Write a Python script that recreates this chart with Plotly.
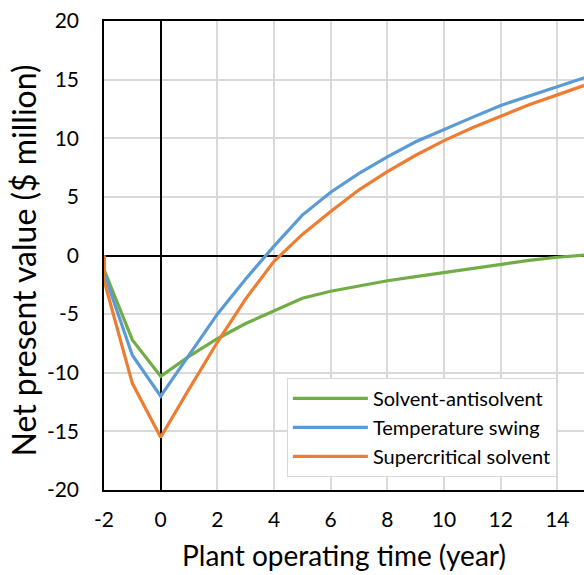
import plotly.graph_objects as go

years = [-2, -2, -1, 0, 1, 2, 3, 4, 5, 6, 7, 8, 9, 10, 11, 12, 13, 14, 15]

solvent_antisolvent = [0, -1.2, -7.2, -10.3, -8.6, -7.1, -5.8, -4.75, -3.65, -3.05, -2.6, -2.15,
                       -1.8, -1.44, -1.08, -0.73, -0.42, -0.15, 0.05]
temperature_swing = [0, -1.5, -8.5, -12.0, -8.5, -5.0, -2.0, 0.8, 3.45, 5.4, 7.0, 8.42,
                     9.7, 10.76, 11.78, 12.8, 13.6, 14.4, 15.2]
supercritical_solvent = [0, -2.1, -10.9, -15.5, -11.4, -7.4, -3.7, -0.5, 1.8, 3.75, 5.6, 7.15,
                         8.55, 9.8, 10.9, 11.9, 12.85, 13.7, 14.55]

series_names = ["Solvent-antisolvent", "Temperature swing", "Supercritical solvent"]
series_values = [solvent_antisolvent, temperature_swing, supercritical_solvent]
series_colors = ["#70AD47", "#5B9BD5", "#ED7D31"]

x_ticks = [-2, 0, 2, 4, 6, 8, 10, 12, 14]
x_ticktext = ["-2", "0", "2", "4", "6", "8", "10", "12", "14"]
y_ticks = [-20, -15, -10, -5, 0, 5, 10, 15, 20]
y_ticktext = ["-20", "-15", "-10", "-5", "0", "5", "10", "15", "20"]

FONT = "Lato"

fig = go.Figure()
for name, vals, col in zip(series_names, series_values, series_colors):
    fig.add_trace(go.Scatter(x=years, y=vals, mode="lines", name=name,
                             line=dict(color=col, width=3.2)))

fig.update_layout(
    width=584, height=575,
    margin=dict(l=104, r=0, t=21, b=85, autoexpand=False),
    paper_bgcolor="white", plot_bgcolor="white",
    font=dict(family=FONT, color="#000000"),
    showlegend=True,
    legend=dict(x=0.381, y=0.028, xanchor="left", yanchor="bottom",
                bgcolor="white", bordercolor="#D9D9D9", borderwidth=1,
                font=dict(family=FONT, size=20, color="#000000"),
                tracegroupgap=0, itemwidth=75),
    xaxis=dict(range=[-2, 14.94], tickvals=x_ticks, ticktext=x_ticktext, showgrid=True,
               gridcolor="#D9D9D9", gridwidth=1.5,
               showline=True, linecolor="#000000", linewidth=1.5, mirror=True,
               zeroline=True, zerolinecolor="#000000", zerolinewidth=1.5,
               ticks="", ticklabelstandoff=10,
               tickfont=dict(family=FONT, size=21, color="#000000"),
               title=dict(text="Plant operating time (year)", standoff=16,
                          font=dict(family=FONT, size=28, color="#000000"))),
    yaxis=dict(range=[-20, 20], tickvals=y_ticks, ticktext=y_ticktext, showgrid=True,
               gridcolor="#D9D9D9", gridwidth=1.5,
               showline=True, linecolor="#000000", linewidth=1.5, mirror=False,
               zeroline=True, zerolinecolor="#000000", zerolinewidth=1.5,
               ticks="", ticklabelstandoff=19,
               tickfont=dict(family=FONT, size=21, color="#000000")),
    annotations=[dict(text="Net present value ($ million)", textangle=-90,
                      xref="paper", yref="paper", x=-0.168, y=0.49,
                      xanchor="center", yanchor="middle", showarrow=False,
                      font=dict(family=FONT, size=32, color="#000000"))],
)

fig.write_html("out.html", config={"displayModeBar": False},
               post_script="document.body.style.margin='0px';")
